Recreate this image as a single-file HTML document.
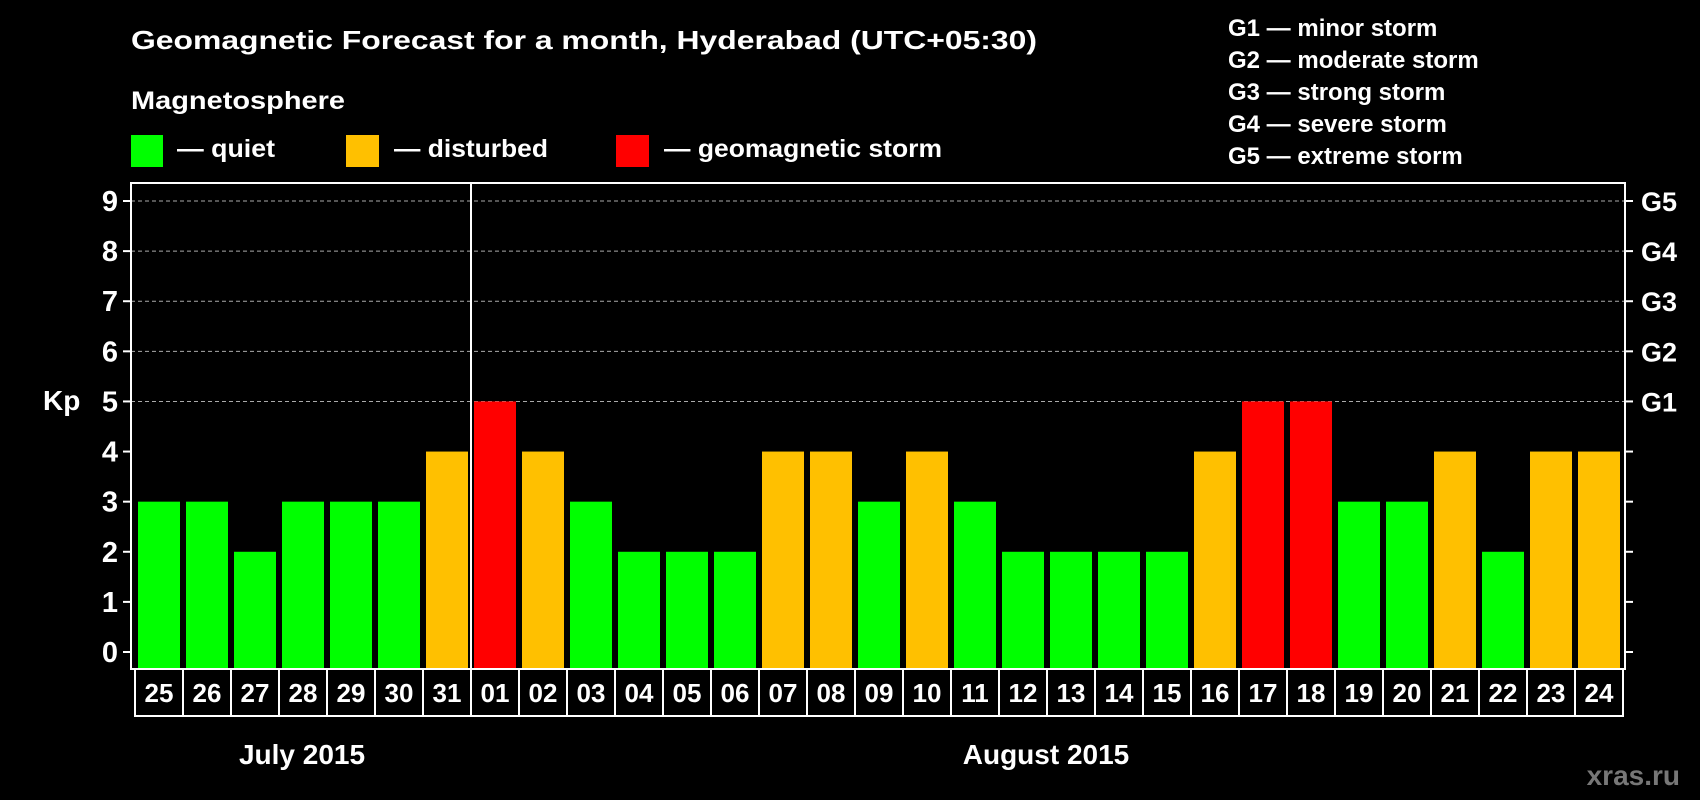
<!DOCTYPE html>
<html><head><meta charset="utf-8"><style>
html,body{margin:0;padding:0;background:#000;}
svg{display:block;font-family:"Liberation Sans",Arial,sans-serif;font-weight:bold;}
</style></head><body>
<svg id="chart" width="1700" height="800" viewBox="0 0 1700 800">
<rect width="1700" height="800" fill="#000"/>
<text x="131" y="49" fill="#fff" font-size="26" textLength="906" lengthAdjust="spacingAndGlyphs">Geomagnetic Forecast for a month, Hyderabad (UTC+05:30)</text>
<text x="131" y="109" fill="#fff" font-size="25" textLength="214" lengthAdjust="spacingAndGlyphs">Magnetosphere</text>
<g>
<rect x="131" y="135" width="32" height="32" fill="#00ff00"/>
<text x="177" y="157" fill="#fff" font-size="25" textLength="98" lengthAdjust="spacingAndGlyphs">— quiet</text></g>
<g>
<rect x="346" y="135" width="33" height="32" fill="#ffc000"/>
<text x="394" y="157" fill="#fff" font-size="25" textLength="154" lengthAdjust="spacingAndGlyphs">— disturbed</text></g>
<g>
<rect x="616" y="135" width="33" height="32" fill="#ff0000"/>
<text x="664" y="157" fill="#fff" font-size="25" textLength="278" lengthAdjust="spacingAndGlyphs">— geomagnetic storm</text></g>
<g font-size="24" fill="#fff">
<text x="1228" y="36">G1 — minor storm</text>
<text x="1228" y="68">G2 — moderate storm</text>
<text x="1228" y="100">G3 — strong storm</text>
<text x="1228" y="132">G4 — severe storm</text>
<text x="1228" y="164">G5 — extreme storm</text>
</g>
<text x="43" y="410" fill="#fff" font-size="28">Kp</text>
<text x="302" y="764" fill="#fff" font-size="28" text-anchor="middle">July 2015</text>
<text x="1046" y="764" fill="#fff" font-size="28" text-anchor="middle">August 2015</text>
<text x="1680" y="785" fill="#777" font-size="28" text-anchor="end">xras.ru</text>
<g id="plot"></g>
</svg>
<script>
const days = ["25","26","27","28","29","30","31","01","02","03","04","05","06","07","08","09","10","11","12","13","14","15","16","17","18","19","20","21","22","23","24"];
const kpValues = [3,3,2,3,3,3,4,5,4,3,2,2,2,4,4,3,4,3,2,2,2,2,4,5,5,3,3,4,2,4,4];
const yTicks = [0,1,2,3,4,5,6,7,8,9];
const gLabels = ["G1","G2","G3","G4","G5"];
const gLevels = [5,6,7,8,9];
const monthBreakIndex = 7;

const NS = "http://www.w3.org/2000/svg";
const g = document.getElementById('plot');
const L = 131, R = 1625, T = 183, B = 669;
const boxL = 135, pitch = (1623 - 135) / days.length;
const y0 = 652, unit = (652 - 201) / 9;
const yScale = v => y0 - v * unit;
const xScale = i => boxL + i * pitch;
function mk(tag, attrs){const e=document.createElementNS(NS,tag);for(const k in attrs)e.setAttribute(k,attrs[k]);g.appendChild(e);return e;}

yTicks.forEach(v=>{
  const y = yScale(v);
  if (v>=5){const ln=mk('line',{x1:L,x2:R,y1:y,y2:y,stroke:'#aaa','stroke-width':1,'stroke-dasharray':'4,3'});
  
  }
  const t1=mk('line',{x1:L-8,x2:L,y1:y,y2:y,stroke:'#fff','stroke-width':2});
  
  
  const t2=mk('line',{x1:R,x2:R+8,y1:y,y2:y,stroke:'#fff','stroke-width':2});
  
  
  const tx=mk('text',{x:118,y:y+10,fill:'#fff','font-size':29,'text-anchor':'end'});
  tx.textContent=v;
  
  
});
gLabels.forEach((lab,i)=>{
  const tx=mk('text',{x:1641,y:yScale(gLevels[i])+10,fill:'#fff','font-size':27});
  tx.textContent=lab;
  
  
});
kpValues.forEach((v,i)=>{
  const c = v>=5?'#ff0000':(v>=4?'#ffc000':'#00ff00');
  const x = xScale(i)+3;
  const b=mk('rect',{x:x,y:yScale(v),width:pitch-6,height:B-yScale(v),fill:c});
  
  
});
const frame=mk('rect',{x:L,y:T,width:R-L,height:B-T,fill:'none',stroke:'#fff','stroke-width':2});


const mx = xScale(monthBreakIndex);
const div=mk('line',{x1:mx,x2:mx,y1:T,y2:716,stroke:'#fff','stroke-width':2});


days.forEach((d,i)=>{
  const r=mk('rect',{x:xScale(i),y:B,width:pitch,height:47,fill:'none',stroke:'#fff','stroke-width':2});
  
  
  const t=mk('text',{x:xScale(i)+pitch/2,y:B+33,fill:'#fff','font-size':26,'text-anchor':'middle'});
  t.textContent=d;
  
  
});
</script>
</body></html>
